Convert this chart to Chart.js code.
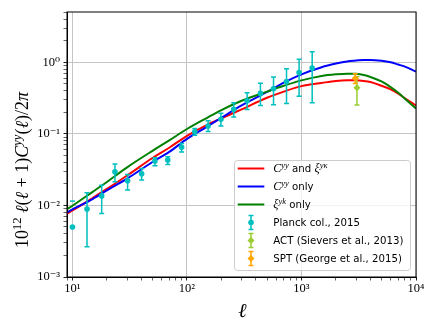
<!DOCTYPE html>
<html>
<head>
<meta charset="utf-8">
<script src="https://cdn.jsdelivr.net/npm/chart.js@4.4.1/dist/chart.umd.min.js"></script>
<style>
    html, body { margin: 0; padding: 0; background: #fff; }
    canvas { display: block; }
</style>
</head>
<body>
<canvas id="chart" width="436" height="327" style="width:436px;height:327px"></canvas>
<script>
// model curves at these multipoles
const ellModel = [9, 10, 15, 20, 30, 50, 70, 100, 150, 200, 300, 500, 700, 1000, 1500, 2000, 2500, 3000, 3500, 4000, 5000, 6000, 7000, 8000, 10000];
const cyyAndXi = [0.0077, 0.0085, 0.0127, 0.0170, 0.0262, 0.046, 0.064, 0.094, 0.134, 0.165, 0.22, 0.32, 0.39, 0.465, 0.515, 0.55, 0.562, 0.562, 0.55, 0.53, 0.47, 0.42, 0.365, 0.315, 0.25];
const cyyOnly = [0.0080, 0.0088, 0.0123, 0.0162, 0.0237, 0.0405, 0.056, 0.085, 0.126, 0.168, 0.25, 0.385, 0.52, 0.68, 0.855, 0.96, 1.03, 1.06, 1.08, 1.08, 1.05, 1.0, 0.93, 0.87, 0.74];
const xiOnly = [0.0089, 0.0099, 0.0155, 0.0213, 0.0341, 0.058, 0.081, 0.117, 0.168, 0.215, 0.29, 0.39, 0.47, 0.56, 0.645, 0.68, 0.695, 0.69, 0.665, 0.625, 0.54, 0.45, 0.375, 0.31, 0.227];

// Planck col. 2015 band powers (null = error bar runs below zero)
const planckEll = [10, 13.4, 18, 23.5, 30.3, 40.2, 52.5, 68, 89.8, 117, 153, 198, 256, 335, 438, 570, 740, 953, 1240];
const planckVal = [0.0050, 0.0089, 0.0136, 0.0295, 0.0221, 0.0277, 0.0417, 0.043, 0.0648, 0.107, 0.129, 0.16, 0.22, 0.29, 0.368, 0.428, 0.54, 0.72, 0.83];
const planckHi = [0.0115, 0.015, 0.0192, 0.0378, 0.0271, 0.0329, 0.0463, 0.0478, 0.0736, 0.119, 0.152, 0.194, 0.272, 0.376, 0.508, 0.625, 0.81, 1.10, 1.40];
const planckLo = [null, 0.00264, 0.0077, 0.0214, 0.0164, 0.0226, 0.0358, 0.0374, 0.056, 0.096, 0.108, 0.129, 0.172, 0.22, 0.25, 0.255, 0.265, 0.335, 0.272];

const actEll = [3050];
const actVal = [0.44];
const actHi = [0.63];
const actLo = [0.253];

const sptEll = [2950];
const sptVal = [0.597];
const sptHi = [0.69];
const sptLo = [0.505];

// axes
const xMin = 8.96, xMax = 10000;
const yMin = 0.001, yMax = 5.05;
const xDecades = [10, 100, 1000, 10000];
const yDecades = [0.001, 0.01, 0.1, 1];

const serif = '"Liberation Serif", "DejaVu Serif", serif';
const sans = '"DejaVu Sans", sans-serif';
const rm = size => `${size}px ${serif}`;
const it = size => `italic ${size}px ${serif}`;
const sf = size => `${size}px ${sans}`;

const SUP = { '0': '⁰', '1': '¹', '2': '²', '3': '³', '4': '⁴', '-': '⁻' };
const powLabel = v => '10' + String(Math.round(Math.log10(v))).split('').map(c => SUP[c]).join('');

function logTicks(decades, lo, hi) {
    const out = [];
    [decades[0] / 10, ...decades].forEach(d => {
        for (let m = 1; m < 10; m++) {
            const v = +(d * m).toPrecision(6);
            if (v >= lo && v <= hi) out.push({ value: v, major: m === 1 });
        }
    });
    return out;
}

const toPoints = (xs, ys) => xs.map((x, i) => ({ x, y: ys[i] }));

const legendItems = [
    { kind: 'line', color: '#ff0000', parts: [['C', it(12)], ['yy', it(8.5), -4.5], [' and ', sf(10.2)], ['ξ', it(12)], ['yκ', it(8.5), -4.5]] },
    { kind: 'line', color: '#0000ff', parts: [['C', it(12)], ['yy', it(8.5), -4.5], [' only', sf(10.2)]] },
    { kind: 'line', color: '#008000', parts: [['ξ', it(12)], ['yk', it(8.5), -4.5], [' only', sf(10.2)]] },
    { kind: 'err', color: '#00bfbf', marker: 'circle', parts: [['Planck col., 2015', sf(10.2)]] },
    { kind: 'err', color: '#9acd32', marker: 'diamond', parts: [['ACT (Sievers et al., 2013)', sf(10.2)]] },
    { kind: 'err', color: '#ffa500', marker: 'diamond', parts: [['SPT (George et al., 2015)', sf(10.2)]] }
];

// y title pieces: text, italic?, size relative to base, baseline shift relative to base
const yTitleParts = [['10', 0, 1, 0], ['12', 0, 0.7, -0.38], [' ', 0, 1, 0], ['ℓ', 1, 1, 0], ['(', 0, 1, 0], ['ℓ', 1, 1, 0], [' + ', 0, 1, 0], ['1', 0, 1, 0], [')', 0, 1, 0],
    ['C', 1, 1, 0], ['yy', 1, 0.7, -0.38], ['(', 0, 1, 0], ['ℓ', 1, 1, 0], [')/2', 0, 1, 0], ['π', 1, 1, 0]];
const xTitle = [['ℓ', it(20)]];

function richParts(defs, base) {
    return defs.map(d => [d[0], (d[1] ? it : rm)(base * d[2]), base * d[3]]);
}

function richWidth(ctx, parts) {
    let w = 0;
    parts.forEach(p => { ctx.font = p[1]; w += ctx.measureText(p[0]).width; });
    return w;
}

function drawRich(ctx, parts, x, y, align) {
    const w = richWidth(ctx, parts);
    let cx = align === 'center' ? x - w / 2 : x;
    ctx.textAlign = 'left';
    ctx.textBaseline = 'alphabetic';
    parts.forEach(p => {
        ctx.font = p[1];
        ctx.fillText(p[0], cx, y + (p[2] || 0));
        cx += ctx.measureText(p[0]).width;
    });
}

function drawMarker(ctx, kind, x, y, r, color) {
    ctx.fillStyle = color;
    ctx.beginPath();
    if (kind === 'circle') {
        ctx.arc(x, y, r, 0, Math.PI * 2);
    } else {
        ctx.moveTo(x, y - r); ctx.lineTo(x + r, y); ctx.lineTo(x, y + r); ctx.lineTo(x - r, y); ctx.closePath();
    }
    ctx.fill();
}

const errorBars = {
    id: 'errorBars',
    beforeDatasetDraw(chart, args) {
        const ds = chart.data.datasets[args.index];
        if (!ds.errHi) return;
        const { ctx, chartArea: a, scales: { x, y } } = chart;
        ctx.save();
        ctx.beginPath();
        ctx.rect(a.left, a.top, a.right - a.left, a.bottom - a.top);
        ctx.clip();
        ctx.strokeStyle = ds.backgroundColor;
        ctx.lineWidth = 1.5;
        ds.data.forEach((p, i) => {
            const px = x.getPixelForValue(p.x);
            const yHi = ds.errHi[i] != null ? y.getPixelForValue(ds.errHi[i]) : null;
            const yLo = ds.errLo[i] != null ? y.getPixelForValue(ds.errLo[i]) : null;
            ctx.beginPath();
            if (yHi != null && yLo != null) { ctx.moveTo(px, yHi); ctx.lineTo(px, yLo); }
            [yHi, yLo].forEach(cy => {
                if (cy == null) return;
                ctx.moveTo(px - 2.5, cy); ctx.lineTo(px + 2.5, cy);
            });
            ctx.stroke();
        });
        ctx.restore();
    }
};

const frameAndText = {
    id: 'frameAndText',
    afterDraw(chart) {
        const { ctx, chartArea: a } = chart;
        ctx.save();
        // axes frame
        ctx.strokeStyle = '#000';
        ctx.lineWidth = 1;
        ctx.strokeRect(a.left, a.top, a.right - a.left, a.bottom - a.top);

        // legend box, lower right
        const bw = 176, bh = 110;
        const bx = a.right - 6 - bw, by = a.bottom - 7 - bh;
        ctx.beginPath();
        ctx.roundRect(bx + 0.5, by + 0.5, bw, bh, 3);
        ctx.fillStyle = 'rgba(255,255,255,0.8)';
        ctx.fill();
        ctx.strokeStyle = '#cccccc';
        ctx.stroke();

        legendItems.forEach((item, i) => {
            const cy = by + 8.5 + i * 18;
            const hx = bx + 17;
            if (item.kind === 'line') {
                ctx.strokeStyle = item.color;
                ctx.lineWidth = 2;
                ctx.beginPath();
                ctx.moveTo(bx + 3.7, cy); ctx.lineTo(bx + 30.3, cy);
                ctx.stroke();
            } else {
                ctx.strokeStyle = item.color;
                ctx.lineWidth = 1.5;
                ctx.beginPath();
                ctx.moveTo(hx, cy - 7); ctx.lineTo(hx, cy + 7);
                ctx.moveTo(hx - 2.5, cy - 7); ctx.lineTo(hx + 2.5, cy - 7);
                ctx.moveTo(hx - 2.5, cy + 7); ctx.lineTo(hx + 2.5, cy + 7);
                ctx.stroke();
                drawMarker(ctx, item.marker, hx, cy, item.marker === 'circle' ? 2.8 : 3.5, item.color);
            }
            ctx.fillStyle = '#000';
            drawRich(ctx, item.parts, bx + 39.3, cy + 3.8, 'left');
        });

        // axis titles
        ctx.fillStyle = '#000';
        drawRich(ctx, xTitle, (a.left + a.right) / 2 + 1, 316.5, 'center');

        // y title runs from y=248 up to y=57 in the original figure
        const w17 = richWidth(ctx, richParts(yTitleParts, 17));
        const base = Math.min(18, 17 * 190 / w17);
        const yParts = richParts(yTitleParts, base);
        ctx.translate(28, 248);
        ctx.rotate(-Math.PI / 2);
        drawRich(ctx, yParts, 0, 0, 'left');
        ctx.restore();
    }
};

function logAxis(min, max, decades, isX) {
    return {
        type: 'logarithmic',
        min, max,
        afterBuildTicks: s => { s.ticks = logTicks(decades, min, max); },
        afterFit: s => { if (isX) s.height = 50; else s.width = 67; },
        ticks: {
            autoSkip: false,
            maxRotation: 0,
            padding: isX ? 1 : 3.5,
            color: '#000',
            font: { family: serif, size: 12.5 },
            callback: (v, i, t) => (t[i].major ? powLabel(v) : '')
        },
        grid: {
            color: c => (c.tick && c.tick.major ? '#c4c4c4' : 'rgba(0,0,0,0)'),
            lineWidth: 1,
            tickColor: '#222',
            tickLength: 3.5,
            tickWidth: c => (c.tick && c.tick.major ? 1 : 0.7)
        },
        border: { color: '#000', width: 1 }
    };
}

const lineSet = (label, ys, color, order) => ({
    label,
    data: toPoints(ellModel, ys),
    showLine: true,
    borderColor: color,
    backgroundColor: color,
    borderWidth: 2,
    pointRadius: 0,
    cubicInterpolationMode: 'monotone',
    order
});

const pointSet = (label, xs, ys, hi, lo, color, style, radius, order) => ({
    label,
    data: toPoints(xs, ys),
    errHi: hi,
    errLo: lo,
    showLine: false,
    backgroundColor: color,
    borderColor: color,
    borderWidth: 0,
    pointStyle: style,
    pointRadius: radius,
    order
});

new Chart(document.getElementById('chart'), {
    type: 'scatter',
    data: {
        datasets: [
            lineSet('Cyy and xi', cyyAndXi, '#ff0000', 6),
            lineSet('Cyy only', cyyOnly, '#0000ff', 5),
            lineSet('xi only', xiOnly, '#008000', 4),
            pointSet('Planck col., 2015', planckEll, planckVal, planckHi, planckLo, '#00bfbf', 'circle', 2.8, 3),
            pointSet('ACT (Sievers et al., 2013)', actEll, actVal, actHi, actLo, '#9acd32', 'rectRot', 3.5, 2),
            pointSet('SPT (George et al., 2015)', sptEll, sptVal, sptHi, sptLo, '#ffa500', 'rectRot', 3.5, 1)
        ]
    },
    options: {
        responsive: false,
        animation: false,
        devicePixelRatio: 1,
        layout: { padding: { top: 12, right: 20, left: 0, bottom: 0 } },
        plugins: { legend: { display: false }, tooltip: { enabled: false } },
        scales: {
            x: logAxis(xMin, xMax, xDecades, true),
            y: logAxis(yMin, yMax, yDecades, false)
        }
    },
    plugins: [errorBars, frameAndText]
});
</script>
</body>
</html>
